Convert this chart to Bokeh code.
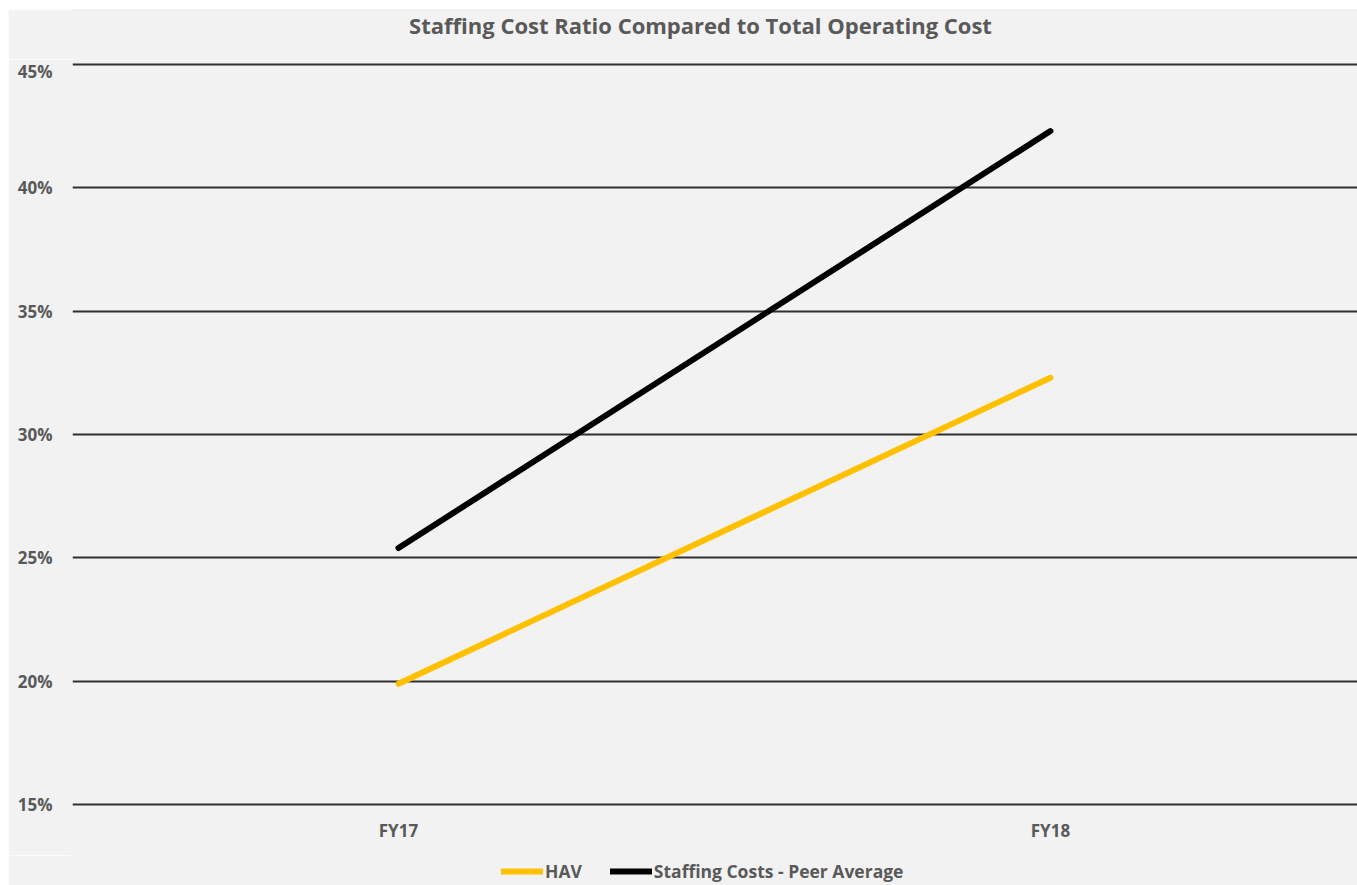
from bokeh.plotting import figure
from bokeh.layouts import column
from bokeh.models import (Range1d, FixedTicker, NumeralTickFormatter, Legend, LegendItem,
                          ColumnDataSource, Label)
from bokeh.embed import file_html
from bokeh.resources import INLINE

categories = ["FY17", "FY18"]
hav = [0.199, 0.323]
peer_avg = [0.254, 0.423]
y_ticks = [0.15, 0.20, 0.25, 0.30, 0.35, 0.40, 0.45]
title_text = "Staffing Cost Ratio Compared to Total Operating Cost"
series_names = ["HAV", "Staffing Costs - Peer Average"]
series_colors = ["#FFC000", "#000000"]

TXT = "#595959"
BG = "#F2F2F2"
FONT = "Open Sans"
W = 1349

xpos = [i + 0.5 for i in range(len(categories))]
src = ColumnDataSource(dict(x=xpos, hav=hav, peer=peer_avg))

# ---- title strip (frame aligned with the chart frame) ----
head = figure(width=W, height=50, output_backend="svg", toolbar_location=None,
              x_range=Range1d(0, 1285), y_range=Range1d(0, 50),
              x_axis_location=None, y_axis_location=None,
              background_fill_color=BG, border_fill_color=BG,
              outline_line_color=BG, outline_line_width=2,
              min_border_left=0, min_border_right=0, min_border_top=0, min_border_bottom=0,
              margin=(9, 0, 0, 8))
head.grid.visible = False
head.add_layout(Label(x=628, y=35, text=title_text, text_align="center",
                      text_baseline="alphabetic", text_font=FONT, text_font_size="22px",
                      text_font_style="bold", text_color=TXT))

# ---- main chart ----
p = figure(width=W, height=796, output_backend="svg", toolbar_location=None,
           x_range=Range1d(0, 1.971), y_range=Range1d(0.148, 0.452),
           background_fill_color=BG, border_fill_color=BG,
           outline_line_color=BG, outline_line_width=2,
           min_border_left=64, min_border_right=0, min_border_top=0, min_border_bottom=46,
           margin=(0, 0, 0, 8))

p.line("x", "hav", source=src, line_color=series_colors[0], line_width=6, line_cap="round")
p.line("x", "peer", source=src, line_color=series_colors[1], line_width=6, line_cap="round")

p.xgrid.grid_line_color = None
p.ygrid.grid_line_color = "#303030"
p.ygrid.grid_line_width = 2
p.ygrid.ticker = FixedTicker(ticks=y_ticks)

p.xaxis.ticker = FixedTicker(ticks=xpos)
p.xaxis.major_label_overrides = {x: c for x, c in zip(xpos, categories)}
p.yaxis.ticker = FixedTicker(ticks=y_ticks)
p.yaxis.formatter = NumeralTickFormatter(format="0%")
for ax in (p.xaxis, p.yaxis):
    ax.axis_line_color = None
    ax.major_tick_line_color = None
    ax.minor_tick_line_color = None
    ax.major_tick_out = 0
    ax.major_label_text_font = FONT
    ax.major_label_text_font_style = "bold"
    ax.major_label_text_font_size = "17px"
    ax.major_label_text_color = TXT
p.xaxis.major_label_standoff = 9
p.yaxis.major_label_standoff = 20

# ---- legend strip (series drawn out of view; only the legend shows) ----
leg = figure(width=W, height=30, output_backend="svg", toolbar_location=None,
             x_range=Range1d(0, 1), y_range=Range1d(10, 11),
             x_axis_location=None, y_axis_location=None,
             background_fill_color=BG, border_fill_color=BG,
             outline_line_color=BG, outline_line_width=2,
             min_border_left=0, min_border_right=0, min_border_top=0, min_border_bottom=0,
             margin=(0, 0, 0, 8))
leg.grid.visible = False
items = []
for name, col, field in zip(series_names, series_colors, ["hav", "peer"]):
    r = leg.line("x", field, source=src, line_color=col, line_width=6, line_cap="round")
    items.append(LegendItem(label=name, renderers=[r]))
legend = Legend(items=items, orientation="horizontal", location=(429, 2),
                background_fill_alpha=0, border_line_color=None,
                label_text_font=FONT, label_text_font_style="bold",
                label_text_font_size="17.5px", label_text_color=TXT,
                glyph_width=42, glyph_height=20, label_standoff=2, spacing=28,
                padding=0, margin=0, label_height=20)
leg.add_layout(legend, "center")

layout = column(head, p, leg, spacing=0)
open("out.html", "w").write(file_html(layout, INLINE))
